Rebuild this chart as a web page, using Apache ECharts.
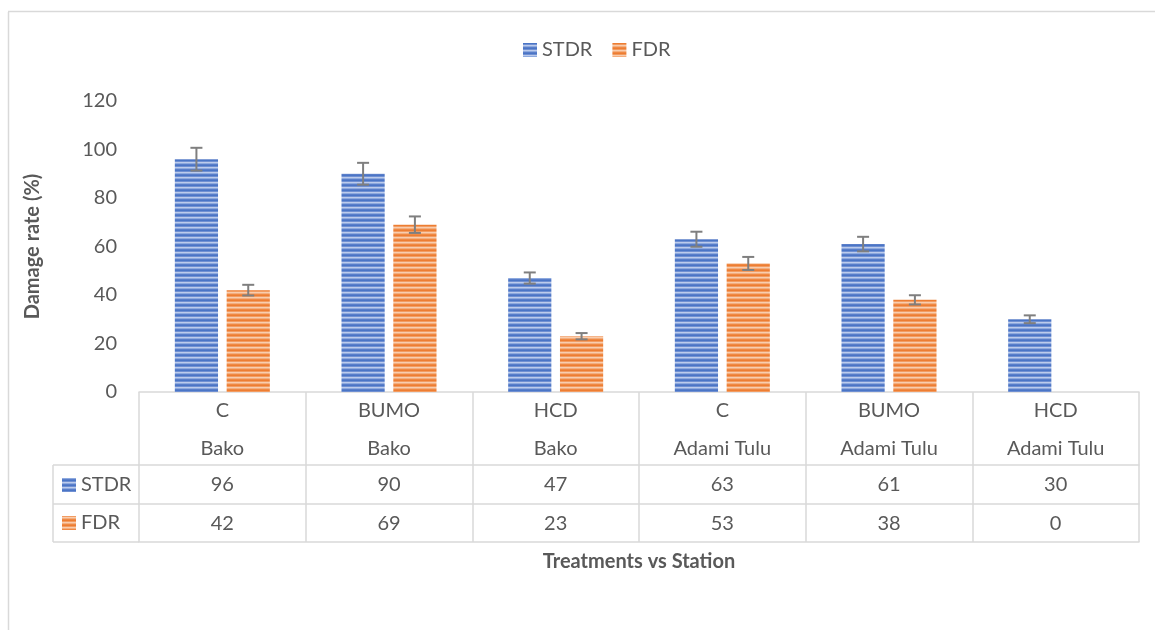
<!DOCTYPE html>
<html lang="en">
<head>
    <meta charset="UTF-8">
    <title>Damage rate</title>
    <script src="https://cdn.jsdelivr.net/npm/echarts@6/dist/echarts.min.js"></script>
    <style>
        html, body { margin: 0; padding: 0; background: #fff; }
    </style>
</head>
<body>
    <div id="main" style="width: 1155px;height:630px;"></div>

    <script type="text/javascript">

        // data
        var treatments = ['C', 'BUMO', 'HCD', 'C', 'BUMO', 'HCD']
        var stations = ['Bako', 'Bako', 'Bako', 'Adami Tulu', 'Adami Tulu', 'Adami Tulu']
        var stdr = [96, 90, 47, 63, 61, 30]
        var fdr = [42, 69, 23, 53, 38, 0]
        var stdrErr = [4.7, 4.5, 2.3, 3.1, 3.0, 1.6]
        var fdrErr = [2.2, 3.4, 1.3, 2.7, 1.9, 0]
        var yTicks = [0, 20, 40, 60, 80, 100, 120]

        var font = 'Lato'
        var fs = 20
        var textColor = '#595959'
        var lineColor = '#d9d9d9'

        // horizontal striped fill like the excel pattern
        function stripes(colors) {
            var c = document.createElement('canvas')
            c.width = 8
            c.height = colors.length
            var ctx = c.getContext('2d')
            colors.forEach(function (col, i) {
                ctx.fillStyle = col
                ctx.fillRect(0, i, 8, 1)
            })
            return { image: c, repeat: 'repeat' }
        }
        var blueFill = stripes(['#4a75c6', '#7090d2', '#bccbec', '#8eaadf', '#5a7ec9'])
        var orangeFill = stripes(['#ed7d32', '#f29c62', '#f8cdae', '#f4ae7e', '#ef8944'])

        var catLabels = treatments.map(function (t, i) { return t + '\n' + stations[i] })

        var barCatGap = 0.43, barGap = 0.2

        function errorSeries(name, values, errs, side) {
            var data = values.map(function (v, i) { return [i, v, errs[i]] })
            return {
                type: 'custom',
                name: name + ' err',
                xAxisIndex: 0,
                yAxisIndex: 0,
                z: 5,
                silent: true,
                data: data,
                encode: { x: 0, y: 1 },
                renderItem: function (params, api) {
                    var err = api.value(2)
                    if (!err) return null
                    var catW = api.size([1, 0])[0]
                    var bw = catW * (1 - barCatGap) / (2 + barGap)
                    var off = side * (bw + bw * barGap) / 2
                    var top = api.coord([api.value(0), api.value(1) + err])
                    var bot = api.coord([api.value(0), api.value(1) - err])
                    var x = top[0] + off
                    var cap = 6
                    var st = { stroke: '#7f7f7f', lineWidth: 2 }
                    return {
                        type: 'group',
                        children: [
                            { type: 'line', shape: { x1: x, y1: top[1], x2: x, y2: bot[1] }, style: st },
                            { type: 'line', shape: { x1: x - cap, y1: top[1], x2: x + cap, y2: top[1] }, style: st },
                            { type: 'line', shape: { x1: x - cap, y1: bot[1], x2: x + cap, y2: bot[1] }, style: st }
                        ]
                    }
                }
            }
        }

        var myChart = echarts.init(document.getElementById('main'))

        var hLine = { stroke: lineColor, lineWidth: 1.5 }

        var option = {
            backgroundColor: '#fff',
            animation: false,
            textStyle: { fontFamily: font },
            legend: {
                top: 35,
                left: 518,
                itemWidth: 14,
                itemHeight: 14,
                itemGap: 20,
                icon: 'rect',
                data: ['STDR', 'FDR'],
                textStyle: { fontSize: fs, color: textColor, fontFamily: font }
            },
            grid: { left: 139, right: 16, top: 101, bottom: 238 },
            yAxis: {
                type: 'value',
                min: 0,
                max: 120,
                interval: 20,
                name: 'Damage rate (%)',
                nameLocation: 'middle',
                nameRotate: 90,
                nameGap: 96,
                nameTextStyle: { fontSize: fs, fontWeight: 'bold', color: textColor, fontFamily: font },
                axisLine: { show: false },
                axisTick: { show: false },
                splitLine: { show: false },
                axisLabel: {
                    fontSize: fs, color: textColor, margin: 22, fontFamily: font,
                    formatter: function (v) { return yTicks.indexOf(v) >= 0 ? String(v) : '' }
                }
            },
            xAxis: [
                {
                    type: 'category',
                    data: catLabels,
                    position: 'bottom',
                    axisLine: { lineStyle: { color: lineColor, width: 1.5 } },
                    axisTick: { show: true, length: 150, interval: 0, lineStyle: { color: lineColor, width: 1.5 } },
                    axisLabel: { interval: 0, fontSize: fs, color: textColor, lineHeight: 38, margin: 0, fontFamily: font }
                },
                {
                    type: 'category',
                    data: stdr.map(String),
                    position: 'bottom',
                    offset: 73,
                    axisLine: { lineStyle: { color: lineColor, width: 1.5 } },
                    axisTick: { show: false },
                    axisLabel: { interval: 0, fontSize: fs, color: textColor, lineHeight: 38, margin: 1, fontFamily: font }
                },
                {
                    type: 'category',
                    data: fdr.map(String),
                    position: 'bottom',
                    offset: 112,
                    axisLine: { lineStyle: { color: lineColor, width: 1.5 } },
                    axisTick: { show: false },
                    axisLabel: { interval: 0, fontSize: fs, color: textColor, lineHeight: 38, margin: 1, fontFamily: font }
                },
                {
                    type: 'category',
                    data: treatments,
                    position: 'bottom',
                    offset: 150,
                    name: 'Treatments vs Station',
                    nameLocation: 'middle',
                    nameGap: 10,
                    nameTextStyle: { fontSize: fs, fontWeight: 'bold', color: textColor, fontFamily: font },
                    axisLine: { lineStyle: { color: lineColor, width: 1.5 } },
                    axisTick: { show: false },
                    axisLabel: { show: false }
                }
            ],
            series: [
                {
                    name: 'STDR',
                    type: 'bar',
                    data: stdr,
                    xAxisIndex: 0,
                    barGap: (barGap * 100) + '%',
                    barCategoryGap: (barCatGap * 100) + '%',
                    itemStyle: { color: blueFill }
                },
                {
                    name: 'FDR',
                    type: 'bar',
                    data: fdr,
                    xAxisIndex: 0,
                    itemStyle: { color: orangeFill }
                },
                errorSeries('STDR', stdr, stdrErr, -1),
                errorSeries('FDR', fdr, fdrErr, 1)
            ],
            graphic: [
                // outer chart border (left and top)
                { type: 'line', shape: { x1: 8.5, y1: 12, x2: 8.5, y2: 630 }, style: { stroke: lineColor, lineWidth: 1.5 } },
                { type: 'line', shape: { x1: 8, y1: 11.5, x2: 1155, y2: 11.5 }, style: { stroke: lineColor, lineWidth: 1.5 } },
                // row header column of the data table
                { type: 'line', shape: { x1: 53, y1: 465, x2: 139, y2: 465 }, style: hLine },
                { type: 'line', shape: { x1: 53, y1: 504, x2: 139, y2: 504 }, style: hLine },
                { type: 'line', shape: { x1: 53, y1: 542, x2: 139, y2: 542 }, style: hLine },
                { type: 'line', shape: { x1: 53, y1: 465, x2: 53, y2: 542 }, style: hLine },
                { type: 'rect', shape: { x: 62, y: 478, width: 14, height: 14 }, style: { fill: blueFill } },
                { type: 'rect', shape: { x: 62, y: 516, width: 14, height: 14 }, style: { fill: orangeFill } },
                { type: 'text', x: 81, y: 485, style: { text: 'STDR', fontSize: fs, fill: textColor, fontFamily: font, verticalAlign: 'middle' } },
                { type: 'text', x: 81, y: 523, style: { text: 'FDR', fontSize: fs, fill: textColor, fontFamily: font, verticalAlign: 'middle' } }
            ]
        }
        myChart.setOption(option)
    </script>
</body>
</html>
